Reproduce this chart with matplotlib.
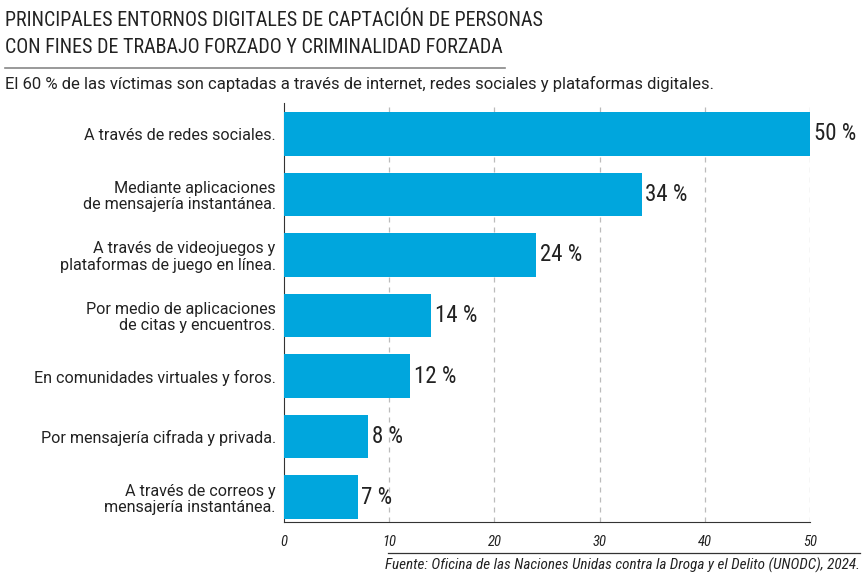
import matplotlib
matplotlib.use("Agg")
import matplotlib.pyplot as plt
from matplotlib import font_manager as fm
from matplotlib.lines import Line2D

categories = [
    "A través de redes sociales.",
    "Mediante aplicaciones\nde mensajería instantánea.",
    "A través de videojuegos y\nplataformas de juego en línea.",
    "Por medio de aplicaciones\nde citas y encuentros.",
    "En comunidades virtuales y foros.",
    "Por mensajería cifrada y privada.",
    "A través de correos y\nmensajería instantánea.",
]
values = [50, 34, 24, 14, 12, 8, 7]
xticks = [0, 10, 20, 30, 40, 50]

title = "PRINCIPALES ENTORNOS DIGITALES DE CAPTACIÓN DE PERSONAS\nCON FINES DE TRABAJO FORZADO Y CRIMINALIDAD FORZADA"
subtitle = "El 60 % de las víctimas son captadas a través de internet, redes sociales y plataformas digitales."
source = "Fuente: Oficina de las Naciones Unidas contra la Droga y el Delito (UNODC), 2024."

# pick a condensed family if available
names = sorted({f.name for f in fm.fontManager.ttflist})
cond = [n for n in names if "Condensed" in n or "Narrow" in n]
pref = ["Roboto Condensed", "DejaVu Sans Condensed", "Liberation Sans Narrow", "Open Sans Condensed"]
fam = None
for p in pref:
    if p in cond:
        fam = p
        break
if fam is None and cond:
    fam = cond[0]
if fam is None:
    fam = "DejaVu Sans"
plt.rcParams['font.family'] = [fam, 'DejaVu Sans']
REG = ['Roboto', 'DejaVu Sans']

BAR = "#00A6DD"
TXT = "#222222"

fig = plt.figure(figsize=(8.63, 5.73), dpi=100)
ax = fig.add_axes([284/863, 1-522/573, (810-284)/863, (522-103)/573])

ypos = list(range(len(categories)))
ax.barh(ypos, values, height=0.72, color=BAR, zorder=3)
ax.set_ylim(6.41, -0.51)
ax.set_xlim(0, 50)
ax.set_yticks(ypos)
ax.set_yticklabels(categories, fontsize=11.6, color=TXT, ha='right', linespacing=1.1,
                   family=REG)
ax.tick_params(axis='y', length=0, pad=6)
ax.set_xticks(xticks)
ax.set_xticklabels([str(t) for t in xticks], fontsize=10.5, style='italic', color=TXT)
ax.tick_params(axis='x', length=0, pad=9)
for t in xticks[1:]:
    ax.axvline(t, color="#bbbbbb", lw=0.9, ls=(0, (4, 4)), zorder=1)
for s in ['top', 'right']:
    ax.spines[s].set_visible(False)
ax.spines['left'].set_color('#333333')
ax.spines['bottom'].set_color('#333333')

for y, v in zip(ypos, values):
    ax.text(v + 0.35, y, f"{v} %", va='center', ha='left', fontsize=16.5, color=TXT, zorder=4)

fig.text(5/863, 1-11/573, title, fontsize=14.4, color=TXT, ha='left', va='top', linespacing=1.55)
fig.add_artist(Line2D([5/863, 505/863], [1-68/573, 1-68/573], color='#888888', lw=1.2))
fig.text(5/863, 1-84/573, subtitle, fontsize=12.0, color=TXT, ha='left', va='center',
         family=REG)
fig.add_artist(Line2D([388/863, 860/863], [1-553/573, 1-553/573], color='#333333', lw=0.9))
fig.text(860/863, 1-565/573, source, fontsize=10.9, style='italic', color=TXT, ha='right', va='center')

fig.savefig("out.png", dpi=100)
